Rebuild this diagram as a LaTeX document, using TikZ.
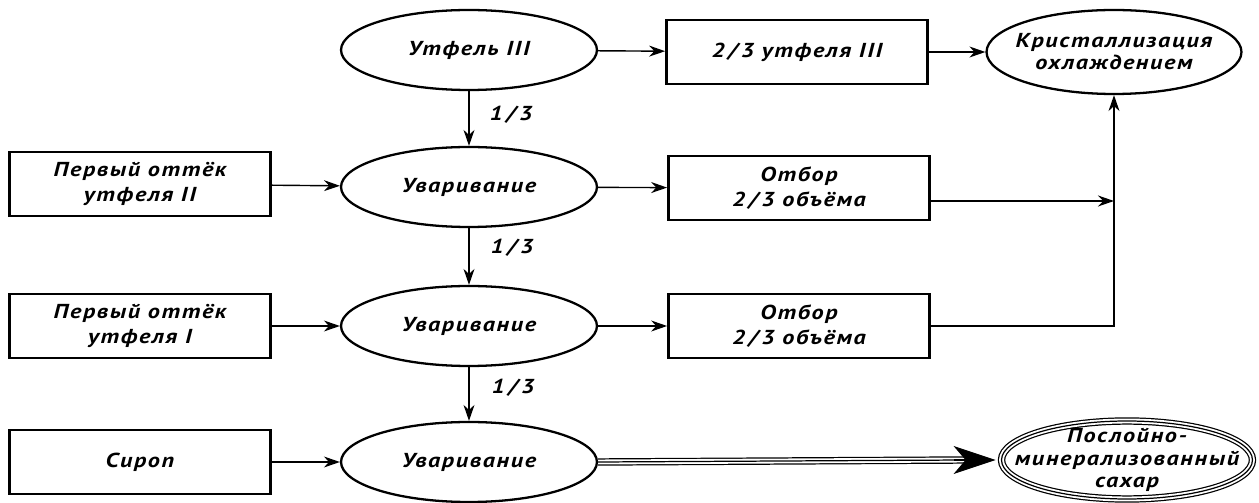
\documentclass[tikz,border=0pt]{standalone}
\usepackage{fontspec}
\setmainfont{PT Sans}
\newfontfamily\schemefont[FakeStretch=1.2, LetterSpace=8]{PT Sans}
\usetikzlibrary{shapes.geometric, arrows.meta}

\tikzset{
  txt/.style={font=\schemefont\bfseries\itshape\fontsize{11.5}{14.5}\selectfont, align=center},
  tight/.style={txt, font=\schemefont\bfseries\itshape\fontsize{11.5}{12.6}\selectfont},
  box/.style={txt, draw, line width=1.6pt, minimum width=5.22cm, minimum height=1.28cm},
  proc/.style={txt, ellipse, draw, line width=1.3pt, inner sep=0pt, minimum width=5.12cm, minimum height=1.6cm},
  triple/.style={draw=white, line width=2.8pt, preaction={draw=black, line width=4.2pt}, postaction={draw=black, line width=0.7pt}},
  arr/.style={line width=0.8pt, -{Stealth[length=0.32cm, width=0.22cm]}},
  frac/.style={txt}
}

\begin{document}
\begin{tikzpicture}[x=0.02cm, y=-0.02cm]

\useasboundingbox (0,0) rectangle (1259,503);

% ===== top row =====

\node[proc] (ut3) at (469,50) {Утфель III};
\node[box] (part) at (797,52) {2\,/\,3 утфеля III};
\node[proc, minimum width=5.1cm, minimum height=1.68cm] (kryst) at (1114,52) {};
\node[tight] (krysttxt) at (kryst.center) {Кристаллизация\\охлаждением};

% ===== second row =====

\node[box] (ot2) at (140,184) {Первый оттёк\\утфеля II};
\node[proc] (uv1) at (469,187) {Уваривание};
\node[box] (otb1) at (799,188) {Отбор\\2\,/\,3 объёма};

% ===== third row =====

\node[box] (ot1) at (140,326) {Первый оттёк\\утфеля I};
\node[proc] (uv2) at (469,326) {Уваривание};
\node[box] (otb2) at (799,326) {Отбор\\2\,/\,3 объёма};

% ===== bottom row =====

\node[box] (sirop) at (140,462) {Сироп};
\node[proc] (uv3) at (469,462) {Уваривание};
\node[triple, ellipse, minimum width=5.02cm, minimum height=1.56cm] (sugar) at (1127,460) {};
\node[tight] (sugartxt) at (sugar.center) {Послойно-\\минерализованный\\сахар};

% ===== fractions =====

\node[frac] (f1) at (511,115) {1\,/\,3};
\node[frac] (f2) at (512,248) {1\,/\,3};
\node[frac] (f3) at (513,388) {1\,/\,3};

% ===== arrows =====

\draw[arr] (ut3) -- (part);
\draw[arr] (part) -- (kryst);
\draw[arr] (ut3) -- (uv1);
\draw[arr] (uv1) -- (uv2);
\draw[arr] (uv2) -- (uv3);

\draw[arr] (ot2) -- (uv1);
\draw[arr] (uv1) -- (otb1);
\draw[arr] (ot1) -- (uv2);
\draw[arr] (uv2) -- (otb2);
\draw[arr] (sirop) -- (uv3);

\coordinate (j1) at ([yshift=-0.26cm]otb1.east);
\draw[arr] (j1) -- (j1 -| kryst.south);
\draw[arr] (otb2.east) -| (kryst.south);

% ===== product =====

\coordinate (tb) at ([xshift=-0.7cm]sugar.west);
\path[triple] (uv3.east) -- (tb);
\draw[line width=0.6pt, shorten >=2pt, -{Stealth[length=0.84cm, width=0.56cm, inset=0.24cm]}] ([xshift=-0.2cm]tb) -- (sugar.west);

\end{tikzpicture}
\end{document}
